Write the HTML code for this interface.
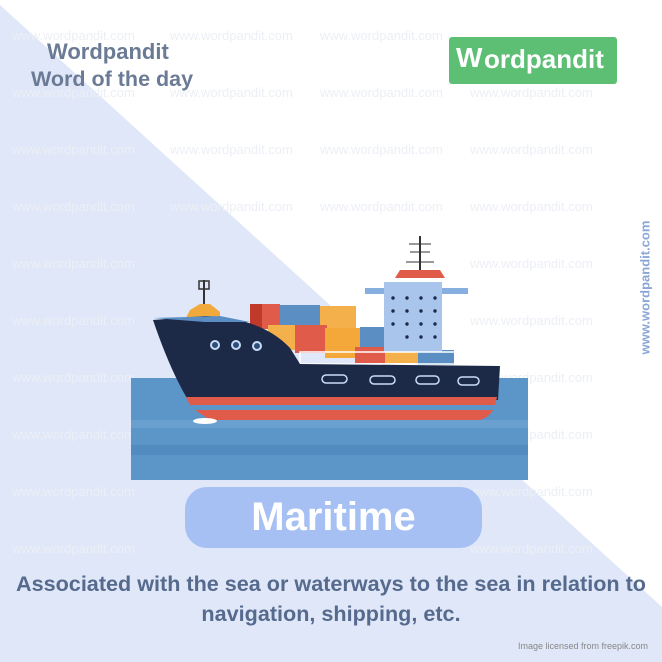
<!DOCTYPE html>
<html><head><meta charset="utf-8"><style>
body{margin:0;width:662px;height:662px;overflow:hidden;background:#fff;font-family:"Liberation Sans",sans-serif;position:relative}
.a{position:absolute}
</style></head><body>
<svg class="a" style="left:0;top:0" width="662" height="662">
<polygon points="0,5 662,607 662,662 0,662" fill="#dfe7f8"/>
<g font-family="Liberation Sans" font-size="13" fill="#eceff5">
<text x="12" y="40">www.wordpandit.com</text><text x="170" y="40">www.wordpandit.com</text><text x="320" y="40">www.wordpandit.com</text>
<text x="12" y="97">www.wordpandit.com</text><text x="170" y="97">www.wordpandit.com</text><text x="320" y="97">www.wordpandit.com</text><text x="470" y="97">www.wordpandit.com</text>
<text x="12" y="154">www.wordpandit.com</text><text x="170" y="154">www.wordpandit.com</text><text x="320" y="154">www.wordpandit.com</text><text x="470" y="154">www.wordpandit.com</text>
<text x="12" y="211">www.wordpandit.com</text><text x="170" y="211">www.wordpandit.com</text><text x="320" y="211">www.wordpandit.com</text><text x="470" y="211">www.wordpandit.com</text>
<text x="12" y="268">www.wordpandit.com</text><text x="470" y="268">www.wordpandit.com</text>
<text x="12" y="325">www.wordpandit.com</text><text x="470" y="325">www.wordpandit.com</text>
<text x="12" y="382">www.wordpandit.com</text><text x="470" y="382">www.wordpandit.com</text>
<text x="12" y="439">www.wordpandit.com</text><text x="470" y="439">www.wordpandit.com</text>
<text x="12" y="496">www.wordpandit.com</text><text x="470" y="496">www.wordpandit.com</text>
<text x="12" y="553">www.wordpandit.com</text><text x="470" y="553">www.wordpandit.com</text>
</g>
<rect x="131" y="378" width="397" height="102" fill="#5c95c8"/>
<rect x="131" y="420" width="397" height="8" fill="#6aa0d0"/>
<rect x="131" y="445" width="397" height="10" fill="#528bbf"/>
<line x1="204" y1="280" x2="204" y2="305" stroke="#333" stroke-width="2"/>
<rect x="199" y="281" width="10" height="8" fill="none" stroke="#333" stroke-width="1.5"/>
<polygon points="186,318 190,310 200,304 210,304 220,312 220,318" fill="#f2a93b"/>
<rect x="250" y="304" width="30" height="25" fill="#e15b4a"/><rect x="250" y="304" width="12" height="25" fill="#c0392b"/>
<rect x="280" y="305" width="40" height="22" fill="#5b8fc4"/><rect x="320" y="306" width="36" height="25" fill="#f4b04a"/>
<rect x="268" y="325" width="30" height="25" fill="#f4b04a"/><rect x="295" y="325" width="32" height="28" fill="#e15b4a"/><rect x="325" y="328" width="35" height="30" fill="#f4a83a"/>
<rect x="360" y="327" width="40" height="24" fill="#5b8fc4"/><rect x="355" y="347" width="45" height="16" fill="#e15b4a"/><rect x="385" y="347" width="40" height="16" fill="#f4b04a"/><rect x="418" y="350" width="36" height="15" fill="#5b8fc4"/>
<rect x="365" y="288" width="103" height="6" fill="#86aee0"/>
<rect x="384" y="282" width="58" height="70" fill="#a9c5ec"/>
<polygon points="395,278 400,270 440,270 445,278" fill="#e15b4a"/>
<line x1="420" y1="236" x2="420" y2="270" stroke="#333" stroke-width="2"/>
<line x1="409" y1="244" x2="431" y2="244" stroke="#333"/><line x1="410" y1="252" x2="430" y2="252" stroke="#333"/><line x1="406" y1="262" x2="434" y2="262" stroke="#333"/>
<g fill="#1c2a48">
<circle cx="393" cy="298" r="1.7"/><circle cx="407" cy="298" r="1.7"/><circle cx="421" cy="298" r="1.7"/><circle cx="435" cy="298" r="1.7"/>
<circle cx="393" cy="311" r="1.7"/><circle cx="407" cy="311" r="1.7"/><circle cx="421" cy="311" r="1.7"/><circle cx="435" cy="311" r="1.7"/>
<circle cx="393" cy="324" r="1.7"/><circle cx="407" cy="324" r="1.7"/><circle cx="421" cy="324" r="1.7"/><circle cx="435" cy="324" r="1.7"/>
<circle cx="407" cy="337" r="1.7"/><circle cx="421" cy="337" r="1.7"/><circle cx="435" cy="337" r="1.7"/>
</g>
<rect x="300" y="352" width="178" height="12" fill="none" stroke="#fff" stroke-width="1.5"/>
<path d="M153,320 L205,316 Q262,318 290,348 L300,364 L500,366 L498,400 L188,400 Q170,370 153,320 Z" fill="#1c2a48"/>
<path d="M153,318 L220,316 L250,322 L205,322 Z" fill="#5b8fc4"/>
<path d="M186,397 L497,397 L495,405 L190,405 Z" fill="#e15b4a"/>
<path d="M195,410 L493,410 Q488,418 480,420 L210,420 Z" fill="#e15b4a"/>
<g fill="#2c4d7a" stroke="#c9dcf5" stroke-width="2"><circle cx="215" cy="345" r="4"/><circle cx="236" cy="345" r="4"/><circle cx="257" cy="346" r="4"/></g>
<g fill="none" stroke="#c9dcf5" stroke-width="1.5"><rect x="322" y="375" width="25" height="8" rx="4"/><rect x="370" y="376" width="25" height="8" rx="4"/><rect x="416" y="376" width="23" height="8" rx="4"/><rect x="458" y="377" width="21" height="8" rx="4"/></g>
<ellipse cx="205" cy="421" rx="12" ry="3" fill="#fff"/>
</svg>
<div class="a" style="left:47px;top:39px;font-size:22px;font-weight:bold;color:#6b7b95">Wordpandit</div>
<div class="a" style="left:31px;top:67px;font-size:21.5px;font-weight:bold;color:#6b7b95">Word of the day</div>
<div class="a" style="left:449px;top:37px;width:168px;height:47px;background:#5cbf73;border-radius:3px"></div>
<div class="a" style="left:456px;top:42px;font-size:28px;font-weight:bold;color:#fff">W</div>
<div class="a" style="left:484px;top:44px;font-size:26px;font-weight:bold;color:#fff">ordpandit</div>
<div class="a" style="left:570px;top:280px;width:150px;transform:rotate(-90deg);font-size:13px;font-weight:bold;color:#8aa6d6;text-align:center">www.wordpandit.com</div>
<div class="a" style="left:185px;top:487px;width:297px;height:61px;background:#a6c0f3;border-radius:22px;color:#fff;font-size:40px;font-weight:bold;text-align:center;line-height:61px">Maritime</div>
<div class="a" style="left:0;top:569px;width:662px;text-align:center;font-size:21.6px;font-weight:bold;color:#566a8e;line-height:30px">Associated with the sea or waterways to the sea in relation to<br>navigation, shipping, etc.</div>
<div class="a" style="left:518px;top:641px;font-size:9px;color:#888">Image licensed from freepik.com</div>
</body></html>
